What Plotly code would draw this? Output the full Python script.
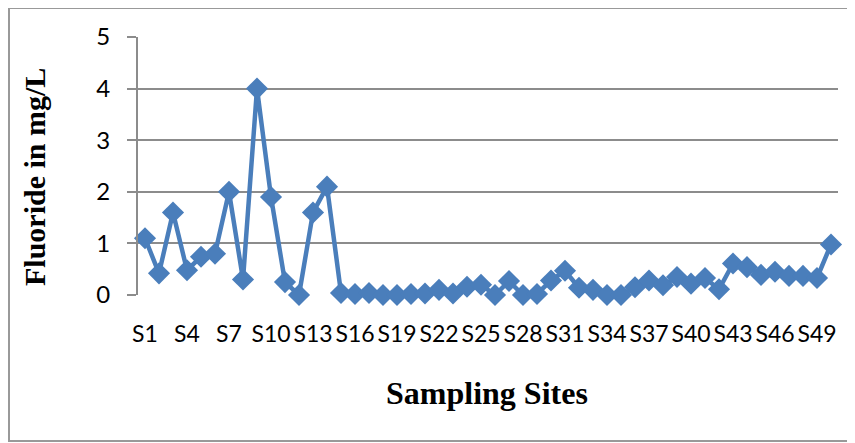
import plotly.graph_objects as go

sites = [f"S{i}" for i in range(1, 51)]
fluoride = [1.1, 0.42, 1.6, 0.48, 0.74, 0.8, 2.0, 0.3, 4.0, 1.9,
            0.25, 0.0, 1.6, 2.1, 0.04, 0.02, 0.04, 0.0, 0.0, 0.02,
            0.03, 0.1, 0.03, 0.16, 0.2, 0.0, 0.27, 0.0, 0.02, 0.28,
            0.47, 0.14, 0.1, 0.0, 0.0, 0.15, 0.28, 0.19, 0.35, 0.22,
            0.33, 0.11, 0.61, 0.54, 0.39, 0.45, 0.37, 0.37, 0.33, 0.98]
tick_labels = sites[::3]
y_ticks = [0, 1, 2, 3, 4, 5]

fig = go.Figure(go.Scatter(
    x=sites, y=fluoride, mode="lines+markers",
    line=dict(color="#4A7EBB", width=4.5),
    marker=dict(symbol="diamond", size=17, color="#4A7EBB"),
    cliponaxis=False,
))

# page is offset by the 8px default body margin
OFF = 8
W, H = 855 - OFF, 443 - OFF
L, R, T = 138 - OFF, 17, 37 - OFF
B = H - (295 - OFF)
pw, ph = W - L - R, H - T - B

def px(x):
    return (x - OFF - L) / pw

def py(y):
    return (H - B - (y - OFF)) / ph

fig.update_layout(
    width=W, height=H,
    margin=dict(l=L, r=R, t=T, b=B),
    paper_bgcolor="white", plot_bgcolor="white",
    showlegend=False,
    font=dict(family="Lato, Carlito, sans-serif", color="black"),
    xaxis=dict(
        type="category", range=[-0.5, 49.5],
        tickmode="array", tickvals=tick_labels, ticktext=tick_labels,
        tickangle=0,
        ticks="", showgrid=False, showline=False, zeroline=False,
        tickfont=dict(size=23), ticklabelstandoff=23,
    ),
    yaxis=dict(
        range=[0, 5], tickvals=y_ticks,
        showgrid=True, gridcolor="#8C8C8C", gridwidth=2,
        showline=True, linecolor="#8C8C8C", linewidth=2,
        ticks="outside", ticklen=9, tickcolor="#8C8C8C", tickwidth=2,
        zeroline=False, tickfont=dict(size=24), ticklabelstandoff=12,
    ),
    shapes=[
        dict(type="rect", xref="paper", yref="paper",
             x0=px(9), x1=px(870), y0=py(441), y1=py(8),
             line=dict(color="#999999", width=2), layer="below"),
    ],
    annotations=[
        dict(text="<b>Sampling Sites</b>", xref="paper", yref="paper",
             x=px(487), y=py(393), showarrow=False,
             font=dict(family="Liberation Serif, Times New Roman, serif", size=32),
             xanchor="center", yanchor="middle"),
        dict(text="<b>Fluoride in mg/L</b>", xref="paper", yref="paper",
             x=px(34), y=py(177), showarrow=False, textangle=-90,
             font=dict(family="Liberation Serif, Times New Roman, serif", size=30),
             xanchor="center", yanchor="middle"),
    ],
)

fig.write_html("out.html")
